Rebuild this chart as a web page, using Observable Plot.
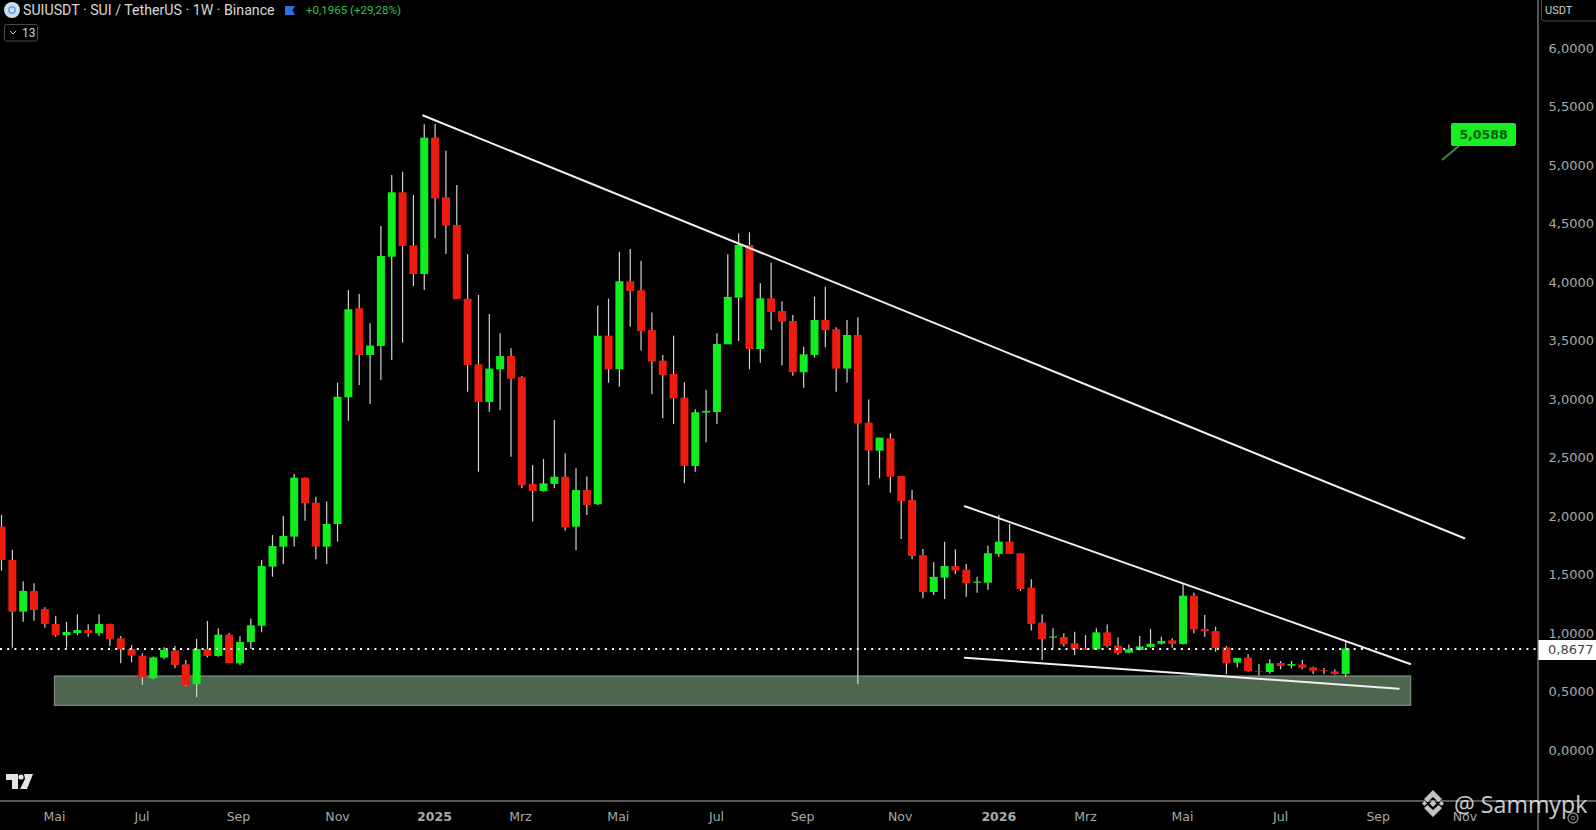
<!DOCTYPE html>
<html>
<head>
<meta charset="utf-8">
<style>
html,body{margin:0;padding:0;background:#000;width:1596px;height:830px;overflow:hidden}
svg{display:block}
</style>
<script src="https://cdn.jsdelivr.net/npm/d3@7"></script>
<script src="https://cdn.jsdelivr.net/npm/@observablehq/plot@0.6"></script>
</head>
<body>
<div id="chart"></div>
<script>
// Weekly SUI/USDT candles
const opens = [1.91,1.625,1.183,1.36,1.206,1.078,.98,1.0,1.026,.998,
1.078,.955,.864,.807,.613,.79,.85,.733,.562,.864,
.804,.986,.741,.924,1.063,1.568,1.738,1.824,2.329,2.115,
1.739,1.933,3.016,3.777,3.378,3.455,4.218,4.769,4.315,4.07,
5.236,4.726,4.489,3.857,3.298,2.976,3.255,3.369,3.187,2.275,
2.215,2.275,2.337,1.91,2.223,2.101,3.543,3.255,4.008,3.931,
3.591,3.329,3.215,3.013,2.429,2.885,2.89,3.469,3.868,4.318,
3.429,3.862,3.754,3.668,3.23,3.378,3.677,3.597,3.261,3.549,
2.799,2.56,2.665,2.343,2.138,1.667,1.351,1.474,1.573,1.542,
1.43,1.431,1.676,1.782,1.682,1.388,1.089,.96,.966,.912,
.87,.861,1.006,.892,.832,.855,.881,.909,.938,.906,
1.32,1.035,1.017,.878,.747,.79,.675,.667,.744,.721,
.732,.707,.684,.672,.65];
const closes = [1.625,1.183,1.36,1.197,1.078,.983,1.01,1.026,.998,1.078,
.95,.864,.807,.621,.792,.855,.727,.556,.864,.804,
.986,.744,.924,1.066,1.573,1.744,1.83,2.329,2.11,1.739,
1.933,3.021,3.768,3.378,3.458,4.224,4.769,4.31,4.07,5.236,
4.717,4.484,3.857,3.292,2.976,3.261,3.369,3.175,2.263,2.215,
2.28,2.337,1.904,2.223,2.095,3.543,3.255,4.008,3.925,3.583,
3.321,3.207,3.007,2.429,2.888,2.9,3.472,3.874,4.318,3.429,
3.862,3.745,3.663,3.23,3.383,3.677,3.591,3.261,3.549,2.791,
2.56,2.671,2.337,2.129,1.659,1.351,1.48,1.573,1.534,1.425,
1.44,1.682,1.782,1.676,1.377,1.078,.949,.97,.904,.861,
.858,1.006,.889,.827,.861,.886,.909,.932,.906,1.32,
1.032,1.015,.872,.741,.787,.675,.67,.741,.718,.735,
.704,.678,.678,.65,.8677];
const highs = [2.01,1.71,1.44,1.425,1.22,1.146,1.097,1.16,1.075,1.16,
1.08,.975,.898,.826,.80,.878,.89,.77,.95,1.103,
1.04,1.0,.975,1.125,1.625,1.838,2.0,2.36,2.33,2.166,
2.124,3.14,3.934,3.9,3.648,4.48,4.917,4.945,4.746,5.35,
5.353,5.125,4.831,4.238,3.891,3.728,3.563,3.435,3.198,2.437,
2.489,2.822,2.537,2.409,2.338,3.8,3.86,4.261,4.284,4.184,
3.74,3.378,3.543,3.144,2.913,3.079,3.563,4.238,4.418,4.427,
3.99,4.167,3.834,3.72,3.449,3.876,3.962,3.614,3.677,3.7,
2.998,2.671,2.708,2.343,2.223,1.719,1.605,1.781,1.716,1.59,
1.482,1.747,2.01,1.933,1.682,1.46,1.16,1.04,.998,1.012,
.983,1.04,1.074,.963,.903,.975,1.035,.969,.955,1.419,
1.345,1.154,1.054,.889,.787,.818,.735,.775,.761,.761,
.77,.712,.704,.69,.926];
const lows = [1.533,.875,1.097,1.106,1.046,.969,.875,.983,.969,.975,
.89,.741,.75,.556,.605,.775,.698,.547,.45,.792,
.798,.744,.727,.864,1.006,1.482,1.59,1.739,1.96,1.63,
1.59,1.782,2.816,3.12,2.959,3.164,3.335,3.483,3.968,3.933,
4.375,4.241,3.857,3.064,2.38,2.893,2.907,2.508,2.238,1.953,
2.209,2.238,1.876,1.71,2.01,2.095,3.14,3.107,3.62,3.415,
3.044,2.836,2.788,2.28,2.38,2.631,2.788,3.469,3.497,3.255,
3.312,3.591,3.287,3.2,3.098,3.355,3.443,3.064,3.141,.565,
2.266,2.323,2.2,1.804,1.63,1.297,1.325,1.291,1.505,1.311,
1.345,1.368,1.653,1.676,1.36,1.021,.77,.87,.884,.812,
.855,.855,.878,.812,.827,.85,.875,.903,.875,.903,
.998,.969,.841,.65,.707,.67,.64,.655,.69,.698,
.69,.65,.65,.644,.627];

// Trend lines and the demand zone, in week number and price
const trendUpperWeek = [38.9,134.95], trendUpperPrice = [5.43,1.815];
const trendMidWeek = [88.87,129.95], trendMidPrice = [2.089,.74];
const trendLowWeek = [88.87,128.9], trendLowPrice = [.793,.528];
const zoneWeek = [4.92,130.05], zonePrice = [.382,.633];
const lastPrice = 0.8677;

// Axes
const priceTicks = [0,.5,1,1.5,2,2.5,3,3.5,4,4.5,5,5.5,6];
const monthWeeks = [4.89,12.96,21.86,31,47.88,56.9,65.96,73.9,82.9,100,108.95,118,127,135];
const monthLabels = ["Mai","Jul","Sep","Nov","Mrz","Mai","Jul","Sep","Nov","Mrz","Mai","Jul","Sep","Nov"];
const yearWeeks = [39.94,92];
const yearLabels = ["2025","2026"];

const candles = opens.map((open,i)=>({week:i,open,close:closes[i],high:highs[i],low:lows[i]}));
const up = candles.filter(d=>d.close>=d.open), down = candles.filter(d=>d.close<d.open);
const line = (w,p)=>w.map((x,i)=>({x,y:p[i]}));
const comma = v=>d3.format(".4f")(v).replace(".",",");
const FONT = '"DejaVu Sans",sans-serif', UI = 'Roboto,sans-serif';
const WHITE = "#f0f0f0";

function overlay(){
  const g = d3.create("svg:g");
  const txt=(s,x,y,o={})=>g.append("text").attr("x",x).attr("y",y).attr("dominant-baseline","central")
    .attr("font-family",o.font||UI).attr("font-size",o.size||13).attr("font-weight",o.weight||400)
    .attr("fill",o.fill||"#ddd").attr("opacity",o.opacity??1).attr("text-anchor",o.anchor||"start").text(s);
  // frame lines
  g.append("line").attr("x1",1538).attr("x2",1538).attr("y1",0).attr("y2",830).attr("stroke","#a8a8a8");
  g.append("line").attr("x1",0).attr("x2",1596).attr("y1",801).attr("y2",801).attr("stroke","#b0b0b0");
  // header
  g.append("circle").attr("cx",12).attr("cy",10).attr("r",8).attr("fill","#c9def0");
  g.append("circle").attr("cx",12).attr("cy",10).attr("r",3.2).attr("fill","none").attr("stroke","#6fa0d8").attr("stroke-width",1.5);
  txt("SUIUSDT · SUI / TetherUS · 1W · Binance",23,10,{size:14.2,fill:"#d8d8d8"});
  g.append("path").attr("d","M285 6H295L292.5 10.5L295 15H285Z").attr("fill","#2f6fe0");
  txt("+0,1965 (+29,28%)",306,10,{size:11.5,fill:"#2ec24c"});
  g.append("rect").attr("x",4.5).attr("y",24.5).attr("width",33).attr("height",16.5).attr("rx",2).attr("fill","none").attr("stroke","#4a4a4a");
  g.append("path").attr("d","M10 31L13 34L16 31").attr("fill","none").attr("stroke","#ccc");
  txt("13",22,33,{size:12,fill:"#cfcfcf"});
  // price-scale unit
  g.append("rect").attr("x",1541.5).attr("y",-3).attr("width",60).attr("height",24).attr("rx",3).attr("fill","none").attr("stroke","#4a4a4a");
  txt("USDT",1545,10,{size:11,fill:"#d0d0d0"});
  // current price tag
  g.append("rect").attr("x",1538.5).attr("y",640).attr("width",58).attr("height",20).attr("fill","#fff");
  txt(comma(lastPrice),1548,649.5,{size:13,fill:"#444",font:FONT});
  // 5,0588 label
  g.append("line").attr("x1",1442).attr("y1",160).attr("x2",1460).attr("y2",145).attr("stroke","#3c8a44").attr("stroke-width",2);
  g.append("rect").attr("x",1451).attr("y",123).attr("width",65).attr("height",23).attr("rx",2).attr("fill","#17f01e");
  txt("5,0588",1483.5,134.5,{size:12.5,weight:700,fill:"#0c5a14",font:FONT,anchor:"middle"});
  // TradingView mark
  g.append("path").attr("d","M6 774H18V789H12V780H6Z M24 774H33L27 789H20L25 779Z").attr("fill","#e4e4e4");
  g.append("circle").attr("cx",21).attr("cy",777).attr("r",2.6).attr("fill","#e4e4e4");
  // gear icon
  g.append("circle").attr("cx",1573).attr("cy",818).attr("r",5).attr("fill","none").attr("stroke","#888").attr("stroke-width",1.3);
  g.append("circle").attr("cx",1573).attr("cy",818).attr("r",1.8).attr("fill","none").attr("stroke","#888");
  // watermark
  const mark = g.append("g").attr("fill","#d8d8d8").attr("opacity",.9);
  mark.append("path").attr("d","M1433 790L1442 799L1438.5 802L1433 797L1427.500 802L1424 799Z");
  mark.append("path").attr("d","M1433 817L1442 808L1438.5 805L1433 810L1427.5 805L1424 808Z");
  mark.append("path").attr("d","M1433 800L1436.5 803.5L1433 807L1429.5 803.5Z");
  mark.append("path").attr("d","M1424.500 801L1427 803.5L1424.500 806L1422 803.5Z");
  mark.append("path").attr("d","M1441.500 801L1444 803.5L1441.500 806L1439 803.5Z");
  txt("@ Sammypk",1454,804,{size:23.2,fill:"#e0e0e0",opacity:.9,font:'"Open Sans",sans-serif'});
  return g.node();
}

const chart = Plot.plot({
  width:1596, height:830,
  marginTop:0, marginBottom:29, marginLeft:0, marginRight:58,
  style:{background:"#000",color:"#a9a9a9",fontFamily:FONT,fontSize:"13px"},
  x:{type:"linear",domain:[-1/10.84,1537/10.84],range:[0,1538]},
  y:{type:"linear",domain:[0,6],range:[750,48.3]},
  marks:[
    Plot.rect([{}],{x1:()=>zoneWeek[0],x2:()=>zoneWeek[1],y1:()=>zonePrice[0],y2:()=>zonePrice[1],fill:"#4e6650",stroke:"#8b9c8d",strokeWidth:1}),
    Plot.ruleX(candles,{x:"week",y1:"low",y2:"high",stroke:"#d2d2d2",strokeWidth:1.2}),
    Plot.ruleX(up,{x:"week",y1:"open",y2:"close",stroke:"#10ee1e",strokeWidth:8}),
    Plot.ruleX(down,{x:"week",y1:"open",y2:"close",stroke:"#ee1c0e",strokeWidth:8}),
    Plot.ruleY([lastPrice],{stroke:"#fff",strokeWidth:2,strokeDasharray:"2,5.2"}),
    Plot.line(line(trendUpperWeek,trendUpperPrice),{x:"x",y:"y",stroke:WHITE,strokeWidth:2}),
    Plot.line(line(trendMidWeek,trendMidPrice),{x:"x",y:"y",stroke:WHITE,strokeWidth:2}),
    Plot.line(line(trendLowWeek,trendLowPrice),{x:"x",y:"y",stroke:WHITE,strokeWidth:2}),
    Plot.axisY(priceTicks,{anchor:"right",label:null,tickSize:0,tickPadding:10,tickFormat:comma,fontSize:13,fill:"#a9a9a9"}),
    Plot.axisX(monthWeeks,{anchor:"bottom",label:null,tickSize:0,tickPadding:11,tickFormat:(d,i)=>monthLabels[i],fontSize:12.5,fill:"#a9a9a9"}),
    Plot.axisX(yearWeeks,{anchor:"bottom",label:null,tickSize:0,tickPadding:11,tickFormat:(d,i)=>yearLabels[i],fontSize:12.5,fontWeight:700,fill:"#a9a9a9"}),
    overlay
  ]
});
document.getElementById("chart").append(chart);
</script>
</body>
</html>
